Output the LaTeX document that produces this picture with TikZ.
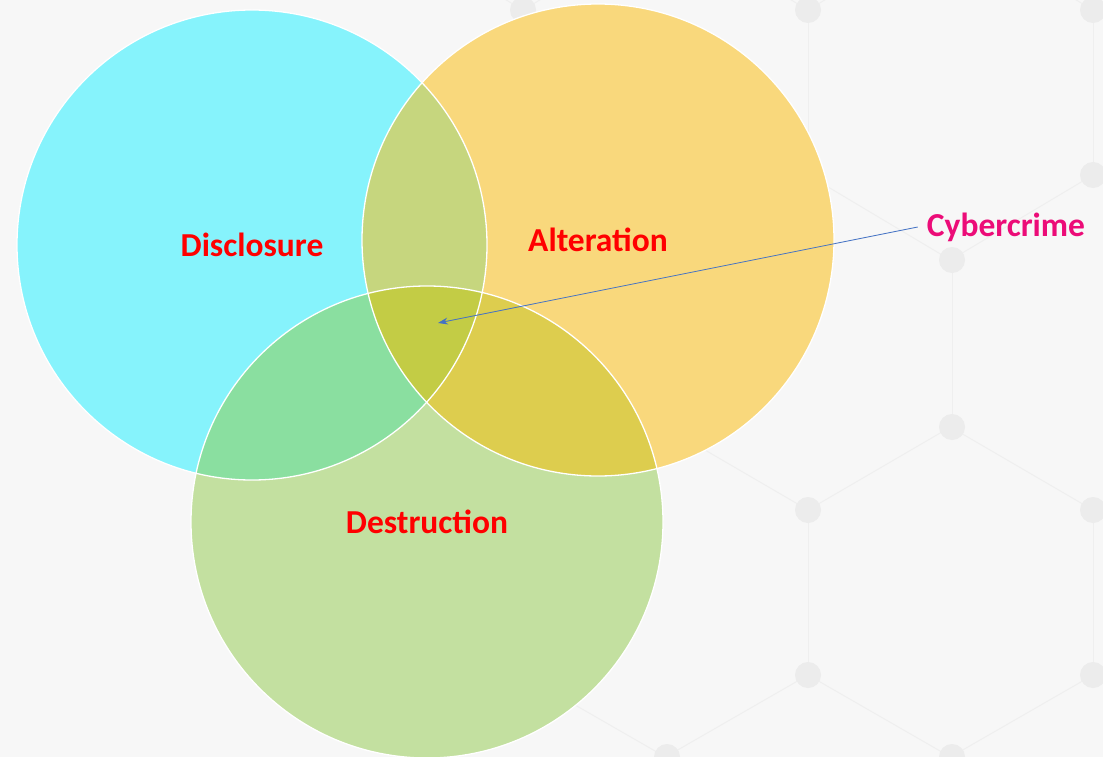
\documentclass[tikz,border=0pt]{standalone}
\usepackage{fontspec}
\setmainfont{Carlito}
\usetikzlibrary{arrows.meta}
\definecolor{bgcol}{HTML}{F7F7F7}
\definecolor{hexln}{HTML}{EFEFEF}
\definecolor{hexdt}{HTML}{ECECEC}
\definecolor{cyanC}{HTML}{86F3FC}
\definecolor{orangeC}{HTML}{F9D87C}
\definecolor{greenC}{HTML}{C3E0A0}
\definecolor{coC}{HTML}{C6D67E}
\definecolor{cgC}{HTML}{8ADFA0}
\definecolor{ogC}{HTML}{DDCD4E}
\definecolor{allC}{HTML}{C3CC45}
\definecolor{labred}{HTML}{FF0000}
\definecolor{cyberpink}{HTML}{EC0C78}
\definecolor{arrowblue}{HTML}{4472C4}
\tikzset{
  hexline/.style={draw=hexln, line width=1pt},
  hexdot/.style={fill=hexdt},
  rim/.style={draw=white, line width=1.3pt},
  setlabel/.style={font=\fontsize{33.5}{38}\selectfont\bfseries, text=labred, inner sep=0pt},
  cyberlabel/.style={font=\fontsize{33.5}{38}\selectfont\bfseries, text=cyberpink, inner sep=9pt},
  pointer/.style={draw=arrowblue, line width=0.8pt, -{Stealth[length=10pt,width=7pt]}}
}
\begin{document}
\begin{tikzpicture}[x=1pt,y=-1pt]
\useasboundingbox (0,0) rectangle (1103,757);
\fill[bgcol] (0,0) rectangle (1103,757);
% faint honeycomb background
\begin{scope}
\clip (450,0) rectangle (1103,757);
\foreach \x in {523,808,1093} {
  \draw[hexline] (\x,10)--(\x,175) (\x,510)--(\x,675);
  \foreach \s in {-142.5,142.5} {
    \draw[hexline] (\x,175)--++(\s,85) (\x,10)--++(\s,-85) (\x,510)--++(\s,-83) (\x,675)--++(\s,82);
  }
  \foreach \y in {10,175,510,675} { \fill[hexdot] (\x,\y) circle[radius=13]; }
}
\foreach \x in {382,667,952} {
  \draw[hexline] (\x,260)--(\x,427) (\x,757)--(\x,922) (\x,-240)--(\x,-75);
  \foreach \y in {260,427,757} { \fill[hexdot] (\x,\y) circle[radius=13]; }
}
\end{scope}
% circles
\coordinate (cC) at (252,245);
\coordinate (cO) at (598,240);
\coordinate (cG) at (427,522);
\fill[cyanC] (cC) circle[radius=235];
\fill[orangeC] (cO) circle[radius=236];
\fill[greenC] (cG) circle[radius=236];
\begin{scope}
  \clip (cC) circle[radius=235];
  \fill[coC] (cO) circle[radius=236];
  \fill[cgC] (cG) circle[radius=236];
  \clip (cO) circle[radius=236];
  \fill[allC] (cG) circle[radius=236];
\end{scope}
\begin{scope}
  \clip (cO) circle[radius=236];
  \clip (cG) circle[radius=236];
  \fill[ogC] (cG) circle[radius=236];
  \clip (cC) circle[radius=235];
  \fill[allC] (cG) circle[radius=236];
\end{scope}
\draw[rim] (cC) circle[radius=235];
\draw[rim] (cO) circle[radius=236];
\draw[rim] (cG) circle[radius=236];
% labels
\node[setlabel] (disc) at (252,245) {Disclosure};
\node[setlabel] (alt) at (598,240) {Alteration};
\node[setlabel] (dest) at (427,522) {Destruction};
\node[cyberlabel] (cyber) at (1006,227) {Cybercrime};
\coordinate (core) at (438,323);
\draw[pointer] (cyber.west) -- (core);
\end{tikzpicture}
\end{document}
